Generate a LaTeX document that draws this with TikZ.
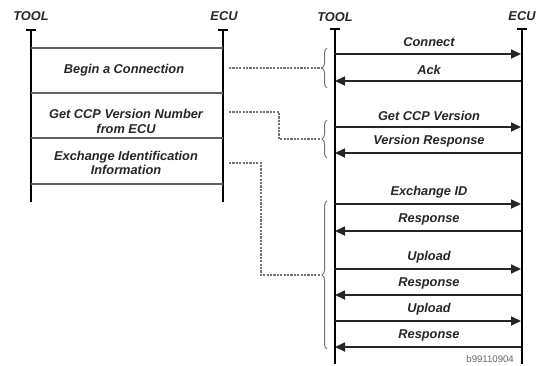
\documentclass[tikz,border=0pt]{standalone}
\usepackage{fontspec}
\setmainfont{Liberation Sans}
\usetikzlibrary{arrows.meta,decorations.pathreplacing}

\begin{document}
\begin{tikzpicture}[x=1pt,y=1pt,
  lbl/.style={font=\fontsize{12.8}{14.8}\selectfont\bfseries\itshape, text=black!85, inner sep=0pt, align=center},
  life/.style={line width=2.3pt, black},
  teebar/.style={line width=2.3pt, black},
  sepline/.style={line width=1.8pt, black!62},
  msg/.style={line width=1.7pt, black!85, -{Triangle[length=10pt,width=9pt]}},
  grp/.style={decorate, decoration={brace,amplitude=5pt}, draw=black!55, line width=1pt},
  link/.style={draw=black!55, line width=1.3pt, dash pattern=on 2.2pt off 1.2pt},
  tag/.style={font=\fontsize{9.6}{11}\selectfont, text=black!60, inner sep=0pt}
]
\useasboundingbox (0,0) rectangle (536,-365);

% ---------- summary chart (left) ----------
\node[lbl] (ltool) at (31,-16) {TOOL};
\node[lbl] (lecu)  at (224,-16) {ECU};
\coordinate (lt0) at (31,-30);  \coordinate (lt1) at (31,-202);
\coordinate (le0) at (223,-30); \coordinate (le1) at (223,-202);
\draw[life] (lt0) -- (lt1);
\draw[life] (le0) -- (le1);
\draw[teebar] ([xshift=-5pt]lt0) -- ([xshift=5pt]lt0);
\draw[teebar] ([xshift=-5pt]le0) -- ([xshift=5pt]le0);

\foreach \y/\n in {48/a,93/b,138/c,184/d}{
  \coordinate (ls\n) at (31,-\y);
  \coordinate (rs\n) at (223,-\y);
  \draw[sepline] (ls\n) -- (rs\n);
}
\node[lbl] (phase1) at (124,-70) {Begin a Connection};
\node[lbl] (phase2) at (126,-121.5) {Get CCP Version Number\\from ECU};
\node[lbl] (phase3) at (126,-163) {Exchange Identification\\Information};

% ---------- message sequence (right) ----------
\node[lbl] (rtool) at (335,-17) {TOOL};
\node[lbl] (recu)  at (522,-16) {ECU};
\coordinate (rt0) at (335,-29); \coordinate (rt1) at (335,-364);
\coordinate (re0) at (522,-29); \coordinate (re1) at (522,-364);
\draw[life] (rt0) -- (rt1);
\draw[life] (re0) -- (re1);
\draw[teebar] ([xshift=-5pt]rt0) -- ([xshift=5pt]rt0);
\draw[teebar] ([xshift=-5pt]re0) -- ([xshift=5pt]re0);

\foreach \y/\n/\d/\txt in {
   54/m1/r/Connect,
   81/m2/l/Ack,
  127/m3/r/Get CCP Version,
  153/m4/l/Version Response,
  204/m5/r/Exchange ID,
  231/m6/l/Response,
  269/m7/r/Upload,
  295/m8/l/Response,
  321/m9/r/Upload,
  347/m10/l/Response}{
  \coordinate (\n t) at (335,-\y);
  \coordinate (\n e) at (521,-\y);
  \node[lbl] (\n lab) at (429,-\y+11.5) {\txt};
  \if\d r
    \draw[msg] (\n t) -- (\n e);
  \else
    \draw[msg] (\n e) -- (\n t);
  \fi
}

% ---------- groups and links ----------
\coordinate (b1s) at (327,-88);  \coordinate (b1e) at (327,-48);
\coordinate (b2s) at (327,-158); \coordinate (b2e) at (327,-120);
\coordinate (b3s) at (327,-349); \coordinate (b3e) at (327,-201);
\draw[grp] (b1s) -- (b1e);
\draw[grp] (b2s) -- (b2e);
\draw[grp] (b3s) -- (b3e);
\coordinate (g1) at (321,-68);
\coordinate (g2) at (321,-139);
\coordinate (g3) at (321,-275);

\coordinate (s1) at (229,-68);
\coordinate (s2) at (229,-112);
\coordinate (s3) at (229,-163);
\draw[link] (s1) -- (g1);
\draw[link] (s2) -| (279,-139) -- (g2);
\draw[link] (s3) -| (261,-275) -- (g3);

\node[tag, anchor=east] (figid) at (514,-359) {b99110904};
\end{tikzpicture}
\end{document}
